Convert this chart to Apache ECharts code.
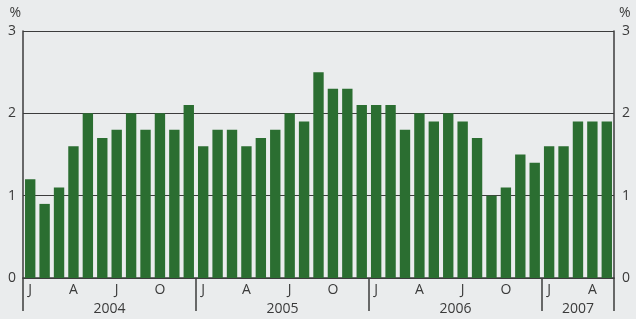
<!DOCTYPE html>
<html>
<head>
<meta charset="utf-8">
<script src="https://cdn.jsdelivr.net/npm/echarts@6/dist/echarts.min.js"></script>
<style>
  html, body { margin: 0; padding: 0; background: #eaeced; }
  #chart { width: 636px; height: 319px; }
</style>
</head>
<body>
<div id="chart"></div>
<script>
// Monatswerte Jan 2004 - Mai 2007
const monthLetters = ['J','F','M','A','M','J','J','A','S','O','N','D'];
const yearLabels = ['2004', '2005', '2006', '2007'];
const yearStarts = [0, 12, 24, 36, 41];

const values = [
    1.2, 0.9, 1.1, 1.6, 2.0, 1.7, 1.8, 2.0, 1.8, 2.0, 1.8, 2.1,
    1.6, 1.8, 1.8, 1.6, 1.7, 1.8, 2.0, 1.9, 2.5, 2.3, 2.3, 2.1,
    2.1, 2.1, 1.8, 2.0, 1.9, 2.0, 1.9, 1.7, 1.0, 1.1, 1.5, 1.4,
    1.6, 1.6, 1.9, 1.9, 1.9
];

const months = values.map((v, i) => monthLetters[i % 12]);
// Mitte jedes Jahres fuer die Jahresbeschriftung
const yearCenters = yearLabels.map((y, i) => (yearStarts[i] + yearStarts[i + 1]) / 2);

const textColor = '#3a3a3a';
const lineColor = '#3c3c3c';
const font = 'Open Sans';

const chart = echarts.init(document.getElementById('chart'));

const option = {
    backgroundColor: '#eaeced',
    animation: false,
    grid: { left: 23, right: 22, top: 31, bottom: 41 },
    xAxis: [
        {
            type: 'category',
            data: months,
            axisLine: { lineStyle: { color: lineColor, width: 1.5 } },
            axisTick: { show: false },
            axisLabel: {
                interval: 2,
                margin: 5,
                color: textColor,
                fontFamily: font,
                fontSize: 14
            }
        },
        {
            type: 'value',
            position: 'bottom',
            min: 0,
            max: 41,
            axisLine: { show: false },
            splitLine: { show: false },
            axisTick: {
                show: true,
                customValues: yearStarts,
                length: 33,
                lineStyle: { color: lineColor, width: 1.5 }
            },
            axisLabel: {
                customValues: yearCenters,
                margin: 24,
                color: textColor,
                fontFamily: font,
                fontSize: 14,
                formatter: (val) => yearLabels[yearCenters.indexOf(val)]
            }
        }
    ],
    yAxis: [
        {
            type: 'value',
            min: 0,
            max: 3,
            interval: 1,
            name: '%',
            nameLocation: 'end',
            nameGap: 11,
            nameTextStyle: { color: textColor, fontFamily: font, fontSize: 14, align: 'right', padding: [0, 2, 0, 0] },
            axisLine: { show: true, lineStyle: { color: lineColor, width: 1.5 } },
            axisTick: { show: false },
            splitLine: { show: true, lineStyle: { color: lineColor, width: 1.2 } },
            axisLabel: { margin: 7, color: textColor, fontFamily: font, fontSize: 14 }
        },
        {
            type: 'value',
            position: 'right',
            min: 0,
            max: 3,
            interval: 1,
            name: '%',
            nameLocation: 'end',
            nameGap: 11,
            nameTextStyle: { color: textColor, fontFamily: font, fontSize: 14, align: 'left', padding: [0, 0, 0, 5] },
            axisLine: { show: true, lineStyle: { color: lineColor, width: 1.5 } },
            axisTick: { show: false },
            splitLine: { show: false },
            axisLabel: { margin: 8, color: textColor, fontFamily: font, fontSize: 14 }
        }
    ],
    series: [
        {
            type: 'bar',
            xAxisIndex: 0,
            yAxisIndex: 0,
            data: values,
            barCategoryGap: '28%',
            itemStyle: { color: '#2b6e31' }
        }
    ]
};

chart.setOption(option);
</script>
</body>
</html>
